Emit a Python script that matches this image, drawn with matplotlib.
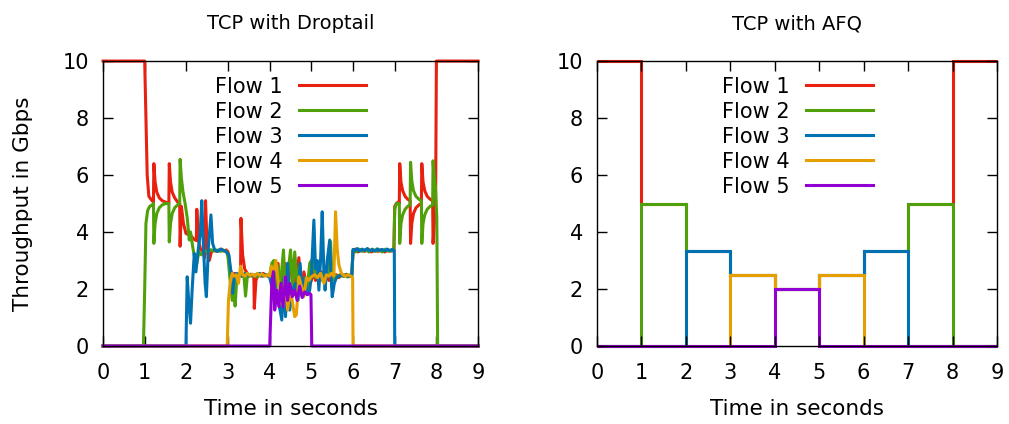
import numpy as np
import matplotlib
matplotlib.use('Agg')
from matplotlib import pyplot as plt

# ---- TCP with Droptail: (time s, throughput Gbps) ----
droptail_flow1 = [(0.0, 10), (1.00, 10), (1.03, 8.0), (1.06, 6.0), (1.10, 5.25), (1.15, 5.15), (1.21, 5.05),
                  (1.22, 6.4), (1.25, 5.75), (1.29, 5.4), (1.35, 5.2), (1.42, 5.1), (1.50, 5.05), (1.58, 5.0),
                  (1.59, 6.4), (1.62, 5.75), (1.66, 5.4), (1.72, 5.2), (1.79, 5.05), (1.84, 5.0), (1.85, 3.5),
                  (1.88, 4.9), (1.93, 4.3), (1.99, 3.95), (2.06, 3.9), (2.12, 3.85), (2.18, 3.75), (2.24, 3.7),
                  (2.25, 4.8), (2.29, 3.7), (2.34, 3.4), (2.40, 3.3), (2.44, 3.1), (2.46, 5.1), (2.50, 3.4),
                  (2.55, 3.0), (2.60, 3.3), (2.66, 3.38), (2.72, 3.32), (2.78, 3.36), (2.84, 3.4), (2.90, 3.33),
                  (2.96, 3.37), (3.00, 3.3), (3.05, 2.7), (3.10, 2.5), (3.15, 2.55), (3.20, 2.45), (3.25, 2.5),
                  (3.30, 2.45), (3.31, 4.48), (3.35, 3.2), (3.40, 2.7), (3.46, 2.55), (3.52, 2.45), (3.57, 2.5),
                  (3.62, 2.4), (3.63, 1.32), (3.67, 2.3), (3.72, 2.5), (3.78, 2.45), (3.84, 2.55), (3.90, 2.5),
                  (3.96, 2.45), (4.00, 2.5), (4.05, 2.2), (4.10, 2.75), (4.15, 2.3), (4.20, 2.9), (4.25, 1.9),
                  (4.30, 2.6), (4.37, 2.9), (4.42, 1.5), (4.47, 2.5), (4.53, 3.0), (4.58, 1.8), (4.64, 2.4),
                  (4.70, 3.1), (4.76, 1.9), (4.82, 2.6), (4.88, 2.2), (4.94, 2.1), (5.00, 2.3), (5.05, 2.6),
                  (5.10, 2.3), (5.15, 2.5), (5.20, 2.35), (5.25, 2.6), (5.30, 2.4), (5.36, 2.5), (5.42, 2.3),
                  (5.48, 2.55), (5.54, 2.45), (5.60, 2.5), (5.66, 2.4), (5.72, 2.5), (5.78, 2.45), (5.84, 2.52),
                  (5.90, 2.43), (5.97, 2.48), (6.00, 3.35), (6.05, 3.4), (6.12, 3.3), (6.20, 3.38), (6.28, 3.32),
                  (6.36, 3.4), (6.44, 3.3), (6.52, 3.36), (6.60, 3.32), (6.68, 3.38), (6.76, 3.3), (6.84, 3.36),
                  (6.92, 3.33), (6.98, 3.35), (7.00, 4.9), (7.04, 5.0), (7.08, 5.05), (7.11, 5.0), (7.12, 6.4),
                  (7.15, 5.75), (7.19, 5.45), (7.25, 5.25), (7.31, 5.15), (7.37, 5.1), (7.38, 3.6), (7.41, 4.3),
                  (7.45, 4.65), (7.51, 4.85), (7.58, 4.95), (7.64, 5.0), (7.65, 6.4), (7.68, 5.75), (7.72, 5.45),
                  (7.78, 5.25), (7.85, 5.15), (7.91, 5.1), (7.92, 3.6), (7.95, 4.3), (7.98, 4.7), (8.00, 10),
                  (9.0, 10)]
droptail_flow2 = [(0.0, 0), (0.97, 0), (1.00, 2.0), (1.03, 4.3), (1.07, 4.75), (1.12, 4.9), (1.18, 4.95),
                  (1.21, 5.0), (1.22, 3.6), (1.25, 4.3), (1.29, 4.65), (1.35, 4.85), (1.42, 4.95), (1.50, 5.0),
                  (1.58, 5.0), (1.59, 3.65), (1.62, 4.3), (1.66, 4.65), (1.72, 4.85), (1.79, 4.95), (1.84, 5.0),
                  (1.85, 6.55), (1.88, 5.9), (1.92, 5.4), (1.97, 5.0), (2.02, 4.5), (2.07, 3.72), (2.10, 4.0),
                  (2.15, 3.5), (2.21, 3.0), (2.25, 2.9), (2.30, 3.3), (2.36, 3.2), (2.42, 3.35), (2.50, 3.3),
                  (2.58, 3.38), (2.66, 3.33), (2.74, 3.37), (2.82, 3.32), (2.90, 3.36), (2.97, 3.3), (3.00, 3.1),
                  (3.05, 2.3), (3.10, 1.6), (3.14, 2.2), (3.17, 1.4), (3.21, 2.4), (3.26, 2.5), (3.32, 2.45),
                  (3.38, 2.5), (3.42, 1.75), (3.46, 2.4), (3.52, 2.5), (3.58, 2.45), (3.64, 2.5), (3.70, 2.42),
                  (3.76, 2.52), (3.82, 2.45), (3.88, 2.5), (3.94, 2.45), (4.00, 2.5), (4.05, 2.9), (4.10, 3.0),
                  (4.15, 2.0), (4.20, 2.8), (4.25, 2.0), (4.33, 3.37), (4.38, 1.8), (4.44, 2.6), (4.50, 3.37),
                  (4.55, 2.0), (4.60, 3.3), (4.66, 2.2), (4.72, 2.8), (4.78, 1.9), (4.84, 2.4), (4.90, 2.0),
                  (4.96, 2.9), (5.00, 3.0), (5.05, 3.0), (5.10, 2.4), (5.16, 2.6), (5.22, 2.3), (5.28, 2.55),
                  (5.34, 2.4), (5.40, 2.5), (5.46, 3.66), (5.50, 2.3), (5.56, 2.5), (5.62, 2.4), (5.68, 2.5),
                  (5.74, 2.45), (5.80, 2.5), (5.86, 2.42), (5.92, 2.5), (5.97, 2.45), (6.00, 3.35), (6.06, 3.3),
                  (6.14, 3.4), (6.22, 3.32), (6.30, 3.38), (6.38, 3.3), (6.46, 3.4), (6.54, 3.33), (6.62, 3.37),
                  (6.70, 3.3), (6.78, 3.4), (6.86, 3.32), (6.94, 3.37), (6.98, 3.34), (7.00, 4.8), (7.04, 5.0),
                  (7.08, 5.0), (7.11, 5.0), (7.12, 3.6), (7.15, 4.3), (7.19, 4.6), (7.25, 4.8), (7.31, 4.9),
                  (7.37, 4.95), (7.38, 6.45), (7.41, 5.8), (7.45, 5.45), (7.51, 5.25), (7.58, 5.15), (7.64, 5.1),
                  (7.65, 3.6), (7.68, 4.3), (7.72, 4.6), (7.78, 4.8), (7.85, 4.9), (7.91, 4.95), (7.92, 6.5),
                  (7.95, 5.9), (7.98, 5.5), (8.01, 4.5), (8.03, 0), (9.0, 0)]
droptail_flow3 = [(0.0, 0), (1.99, 0), (2.02, 2.43), (2.06, 1.5), (2.10, 0.8), (2.14, 2.0), (2.19, 3.25),
                  (2.23, 2.6), (2.27, 3.2), (2.33, 3.9), (2.37, 5.1), (2.41, 3.5), (2.45, 2.2), (2.48, 1.73),
                  (2.53, 3.5), (2.59, 4.6), (2.63, 3.6), (2.68, 3.37), (2.75, 3.32), (2.82, 3.4), (2.90, 3.35),
                  (2.96, 3.3), (3.02, 3.2), (3.07, 2.6), (3.11, 1.85), (3.15, 2.4), (3.20, 2.55), (3.27, 2.5),
                  (3.34, 2.45), (3.41, 2.55), (3.48, 2.48), (3.55, 2.52), (3.62, 2.45), (3.69, 2.5), (3.76, 2.55),
                  (3.83, 2.45), (3.90, 2.5), (3.96, 2.48), (4.00, 2.4), (4.05, 2.1), (4.10, 2.3), (4.16, 1.8),
                  (4.22, 1.5), (4.29, 0.91), (4.34, 2.4), (4.38, 1.03), (4.43, 2.9), (4.48, 1.26), (4.55, 1.96),
                  (4.62, 2.2), (4.68, 1.6), (4.73, 2.9), (4.78, 1.73), (4.84, 2.4), (4.90, 1.8), (4.96, 1.96),
                  (5.00, 2.5), (5.06, 4.42), (5.10, 2.7), (5.14, 3.0), (5.18, 1.96), (5.22, 3.0), (5.26, 4.71),
                  (5.30, 2.6), (5.33, 1.96), (5.38, 3.0), (5.44, 3.72), (5.47, 2.5), (5.50, 1.73), (5.55, 2.2),
                  (5.60, 2.4), (5.66, 2.45), (5.72, 2.5), (5.78, 2.45), (5.84, 2.5), (5.90, 2.45), (5.97, 2.5),
                  (6.00, 3.39), (6.05, 3.35), (6.10, 3.42), (6.16, 3.33), (6.22, 3.4), (6.28, 3.35), (6.34, 3.42),
                  (6.40, 3.34), (6.46, 3.38), (6.52, 3.33), (6.58, 3.41), (6.64, 3.35), (6.70, 3.39), (6.76, 3.34),
                  (6.82, 3.4), (6.88, 3.35), (6.94, 3.39), (6.99, 3.35), (7.00, 0), (9.0, 0)]
droptail_flow4 = [(0.0, 0), (2.98, 0), (3.01, 1.6), (3.05, 2.2), (3.10, 2.55), (3.15, 2.45), (3.20, 2.5),
                  (3.25, 2.2), (3.30, 2.8), (3.35, 2.5), (3.40, 2.45), (3.46, 2.55), (3.52, 2.48), (3.58, 2.52),
                  (3.64, 2.45), (3.70, 2.55), (3.76, 2.48), (3.82, 2.52), (3.88, 2.45), (3.94, 2.5), (4.00, 2.45),
                  (4.04, 2.8), (4.10, 2.6), (4.15, 3.0), (4.20, 2.3), (4.26, 1.7), (4.32, 1.4), (4.37, 2.43),
                  (4.43, 1.26), (4.49, 2.0), (4.55, 1.5), (4.60, 1.03), (4.64, 1.1), (4.70, 2.43), (4.76, 2.1),
                  (4.82, 1.73), (4.88, 2.4), (4.94, 2.3), (5.00, 2.43), (5.08, 2.5), (5.15, 2.4), (5.22, 2.55),
                  (5.30, 2.2), (5.36, 2.5), (5.42, 2.45), (5.48, 2.55), (5.54, 2.45), (5.58, 4.71), (5.62, 3.4),
                  (5.66, 2.85), (5.72, 2.55), (5.80, 2.45), (5.88, 2.5), (5.95, 2.45), (5.99, 2.4), (6.00, 0),
                  (9.0, 0)]
droptail_flow5 = [(0.0, 0), (4.00, 0), (4.05, 2.2), (4.09, 2.61), (4.12, 1.26), (4.17, 1.96), (4.22, 1.38),
                  (4.27, 2.2), (4.32, 1.38), (4.38, 2.43), (4.43, 1.6), (4.48, 2.2), (4.54, 1.73), (4.60, 1.96),
                  (4.66, 1.6), (4.72, 2.1), (4.78, 1.7), (4.84, 1.9), (4.90, 1.8), (4.96, 1.85), (4.99, 1.8),
                  (5.01, 0), (9.0, 0)]

# ---- TCP with AFQ: one value per one-second interval ----
afq_edges = [0, 1, 2, 3, 4, 5, 6, 7, 8, 9]
afq_flow1 = [10, 5, 3.33, 2.5, 2, 2.5, 3.33, 5, 10]
afq_flow2 = [0, 5, 3.33, 2.5, 2, 2.5, 3.33, 5, 0]
afq_flow3 = [0, 0, 3.33, 2.5, 2, 2.5, 3.33, 0, 0]
afq_flow4 = [0, 0, 0, 2.5, 2, 2.5, 0, 0, 0]
afq_flow5 = [0, 0, 0, 0, 2, 0, 0, 0, 0]

labels = ['Flow 1', 'Flow 2', 'Flow 3', 'Flow 4', 'Flow 5']
colors = ['#e8200f', '#4fa00a', '#0072b2', '#e69f00', '#9400d3']

lw = 2.2
plt.rcParams['font.family'] = 'DejaVu Sans'

fig = plt.figure(figsize=(10.09, 4.24), dpi=100)
ax1 = fig.add_axes([0.1021, 0.184, 0.3717, 0.672])
ax2 = fig.add_axes([0.5917, 0.184, 0.3964, 0.672])

droptail = [droptail_flow1, droptail_flow2, droptail_flow3, droptail_flow4, droptail_flow5]
for series, lab, col in zip(droptail, labels, colors):
    t, v = zip(*series)
    ax1.plot(t, v, color=col, lw=lw, label=lab, clip_on=False)

afq = [afq_flow1, afq_flow2, afq_flow3, afq_flow4, afq_flow5]
for vals, lab, col in zip(afq, labels, colors):
    ax2.stairs(vals, afq_edges, baseline=None, color=col, lw=lw, clip_on=False)
    ax2.plot([], [], color=col, lw=lw, label=lab)

for ax, title in [(ax1, 'TCP with Droptail'), (ax2, 'TCP with AFQ')]:
    ax.set_xlim(0, 9)
    ax.set_ylim(0, 10)
    ax.set_xticks(range(0, 10))
    ax.set_yticks(range(0, 11, 2))
    ax.tick_params(direction='in', top=True, right=True, length=7, width=1, labelsize=15)
    ax.tick_params(axis='x', pad=12)
    ax.tick_params(axis='y', pad=10)
    for s in ax.spines.values():
        s.set_linewidth(1)
    ax.set_title(title, fontsize=14, pad=23)
    ax.set_xlabel('Time in seconds', fontsize=15.5, labelpad=12)

ax1.set_ylabel('Throughput in Gbps', fontsize=15.5, labelpad=21)

for ax, right in [(ax1, 0.70), (ax2, 0.69)]:
    ax.legend(loc='upper right', bbox_to_anchor=(right, 0.945), frameon=False, markerfirst=False,
              fontsize=15, handlelength=3.2, handletextpad=0.8, labelspacing=0.24,
              borderaxespad=0, borderpad=0)

plt.savefig('out.png', dpi=100)
